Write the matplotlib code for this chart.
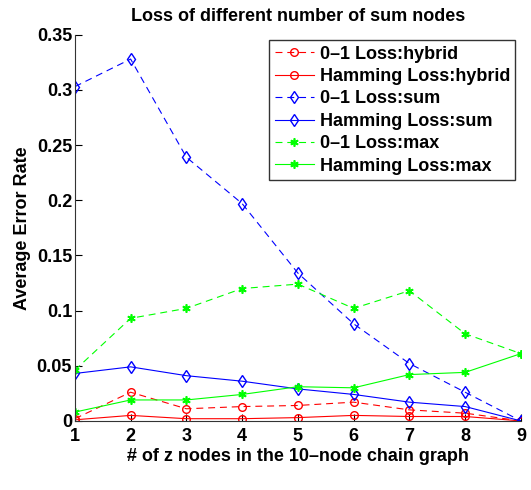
import numpy as np
import matplotlib
matplotlib.use("Agg")
import matplotlib.pyplot as plt

plt.rcParams['font.family'] = ['Liberation Sans', 'DejaVu Sans']
plt.rcParams['font.weight'] = 'bold'
plt.rcParams['lines.scale_dashes'] = False

# number of z nodes
z_nodes = [1, 2, 3, 4, 5, 6, 7, 8, 9]

zero_one_hybrid = [0.002, 0.026, 0.011, 0.013, 0.014, 0.017, 0.010, 0.007, 0.0]
hamming_hybrid = [0.001, 0.005, 0.002, 0.002, 0.003, 0.005, 0.004, 0.004, 0.0]
zero_one_sum = [0.303, 0.328, 0.239, 0.197, 0.134, 0.088, 0.052, 0.026, 0.0]
hamming_sum = [0.043, 0.049, 0.041, 0.036, 0.029, 0.024, 0.017, 0.013, 0.0]
zero_one_max = [0.046, 0.093, 0.102, 0.120, 0.124, 0.102, 0.118, 0.079, 0.061]
hamming_max = [0.008, 0.019, 0.019, 0.024, 0.031, 0.030, 0.042, 0.044, 0.061]

fig = plt.figure(figsize=(5.31, 4.90), dpi=100)
ax = fig.add_axes([0.141, 0.141, 0.840, 0.788])

lw = 0.8
dash = (5, 3.5)
star = (6, 2, 0)
green = '#00ff00'
ax.plot(z_nodes, zero_one_hybrid, 'r--o', mfc='none', lw=lw, ms=5.5, dashes=dash, label='0\u20131 Loss:hybrid')
ax.plot(z_nodes, hamming_hybrid, 'r-o', mfc='none', lw=lw, ms=5.5, label='Hamming Loss:hybrid')
ax.plot(z_nodes, zero_one_sum, 'b--d', mfc='none', lw=lw, ms=6.5, dashes=dash, label='0\u20131 Loss:sum')
ax.plot(z_nodes, hamming_sum, 'b-d', mfc='none', lw=lw, ms=6.5, label='Hamming Loss:sum')
ax.plot(z_nodes, zero_one_max, '--', marker=star, color=green, lw=lw, ms=6, mew=1.2, dashes=dash, label='0\u20131 Loss:max')
ax.plot(z_nodes, hamming_max, '-', marker=star, color=green, lw=lw, ms=6, mew=1.2, label='Hamming Loss:max')

ax.set_xlim(1, 9)
ax.set_ylim(0, 0.35)
ax.set_xticks(z_nodes)
ax.set_yticks([0, 0.05, 0.1, 0.15, 0.2, 0.25, 0.3, 0.35])
ax.set_yticklabels(['0', '0.05', '0.1', '0.15', '0.2', '0.25', '0.3', '0.35'])
ax.tick_params(direction='in', labelsize=13, length=5, pad=2)
ax.tick_params(axis='x', pad=5)
ax.spines['top'].set_visible(False)
ax.spines['right'].set_visible(False)
for s in ['left', 'bottom']:
    ax.spines[s].set_color('#333333')

ax.set_title('Loss of different number of sum nodes', fontsize=13, fontweight='bold', pad=10)
ax.set_xlabel('# of z nodes in the 10\u2013node chain graph', fontsize=13, fontweight='bold', labelpad=2)
ax.set_ylabel('Average Error Rate', fontsize=13, fontweight='bold', labelpad=4)

leg = ax.legend(loc='upper right', fontsize=13, frameon=True, fancybox=False,
                edgecolor='black', handlelength=2.2, handletextpad=0.3,
                borderpad=0.3, labelspacing=0.3, borderaxespad=0.3)
leg.get_frame().set_linewidth(1.0)

fig.savefig('out.png', dpi=100)
